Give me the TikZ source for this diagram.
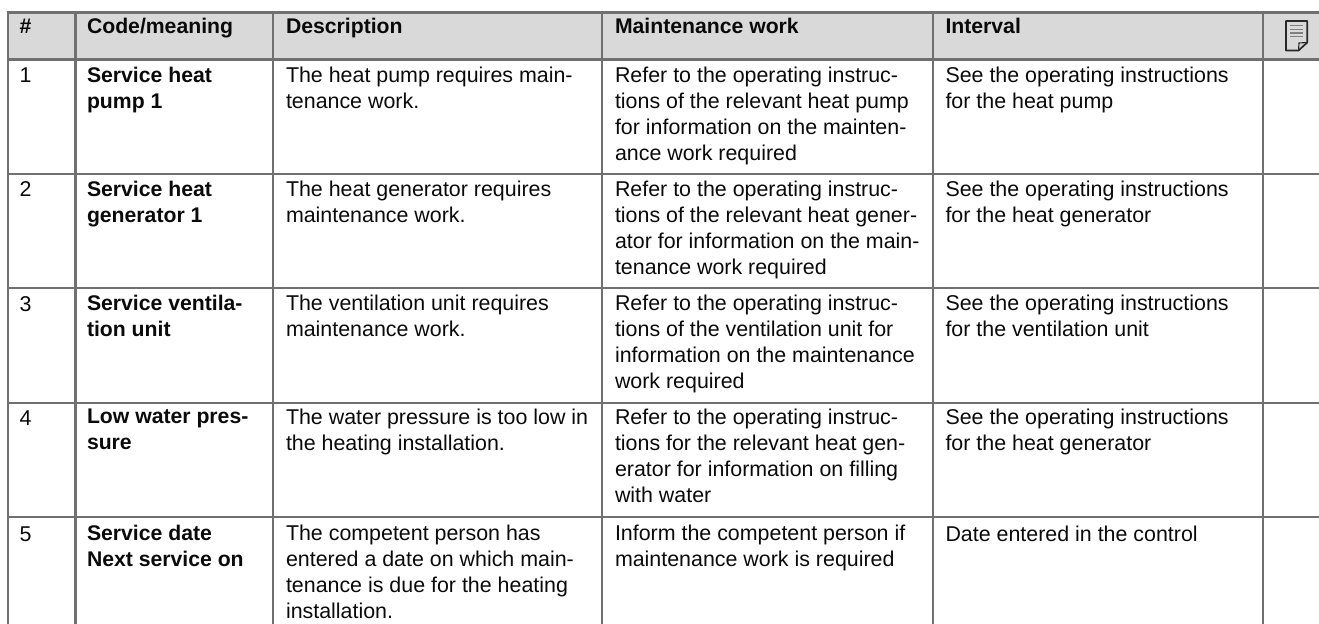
\documentclass[tikz,border=0pt]{standalone}
\usepackage{fontspec}
\setmainfont{Liberation Sans}
\definecolor{rule}{RGB}{112,112,112}
\definecolor{head}{RGB}{217,217,217}
\definecolor{ink}{RGB}{10,10,10}
\definecolor{iconink}{RGB}{40,40,40}
\begin{document}
\begin{tikzpicture}[x=1bp,y=-1bp,
  gridline/.style={draw=rule,line width=2.4bp},
  cell/.style={anchor=north west,yshift=16bp,inner sep=0pt,outer sep=0pt,align=left,text=ink,font=\fontsize{21.4bp}{26bp}\selectfont,execute at begin node={\rule{0pt}{16bp}}},
  bcell/.style={cell,font=\fontsize{21.2bp}{26bp}\selectfont\bfseries}]
\useasboundingbox (0,0) rectangle (1319,624);
\fill[head] (8,12.5) rectangle (1319,59.5);
\foreach \y in {12.5,59.5,174,287.7,403,516.7} \draw[gridline] (7,\y) -- (1319,\y);
\foreach \x in {8.2,75.3,273,602,932.7,1263} \draw[gridline] (\x,12.5) -- (\x,624);
% header
\node[bcell] (h0) at (19.5,34) {\#};
\node[bcell] (h1) at (87,34) {Code/meaning};
\node[bcell] (h2) at (286,34) {Description};
\node[bcell] (h3) at (615,34) {Maintenance work};
\node[bcell] (h4) at (945.5,34) {Interval};
% row 1
\node[cell] (n1) at (19.5,83) {1};
\node[bcell] (c1) at (87,83) {Service heat\\pump 1};
\node[cell] (d1) at (286,83) {The heat pump requires main-\\tenance work.};
\node[cell] (m1) at (615,83) {Refer to the operating instruc-\\tions of the relevant heat pump\\for information on the mainten-\\ance work required};
\node[cell] (i1) at (945.5,83) {See the operating instructions\\for the heat pump};
% row 2
\node[cell] (n2) at (19.5,197) {2};
\node[bcell] (c2) at (87,197) {Service heat\\generator 1};
\node[cell] (d2) at (286,197) {The heat generator requires\\maintenance work.};
\node[cell] (m2) at (615,197) {Refer to the operating instruc-\\tions of the relevant heat gener-\\ator for information on the main-\\tenance work required};
\node[cell] (i2) at (945.5,197) {See the operating instructions\\for the heat generator};
% row 3
\node[cell] (n3) at (19.5,311) {3};
\node[bcell] (c3) at (87,311) {Service ventila-\\tion unit};
\node[cell] (d3) at (286,311) {The ventilation unit requires\\maintenance work.};
\node[cell] (m3) at (615,311) {Refer to the operating instruc-\\tions of the ventilation unit for\\information on the maintenance\\work required};
\node[cell] (i3) at (945.5,311) {See the operating instructions\\for the ventilation unit};
% row 4
\node[cell] (n4) at (19.5,425) {4};
\node[bcell] (c4) at (87,425) {Low water pres-\\sure};
\node[cell] (d4) at (286,425) {The water pressure is too low in\\the heating installation.};
\node[cell] (m4) at (615,425) {Refer to the operating instruc-\\tions for the relevant heat gen-\\erator for information on filling\\with water};
\node[cell] (i4) at (945.5,425) {See the operating instructions\\for the heat generator};
% row 5
\node[cell] (n5) at (19.5,541) {5};
\node[bcell] (c5) at (87,541) {Service date\\Next service on};
\node[cell] (d5) at (286,541) {The competent person has\\entered a date on which main-\\tenance is due for the heating\\installation.};
\node[cell] (m5) at (615,541) {Inform the competent person if\\maintenance work is required};
\node[cell] (i5) at (945.5,541) {Date entered in the control};
% icon
\draw[iconink,line width=1.7bp,line join=round] (1286,21) -- (1307.2,21) -- (1307.2,42.5) -- (1298.5,50.5) -- (1286,50.5) -- cycle;
\draw[iconink,line width=1.1bp] (1298.5,50.5) -- (1299,43) -- (1307.2,42.5);
\foreach \y in {25.5,29.3,33,36.8} \draw[gray,line width=1.1bp] (1290,\y) -- (1303,\y);
\end{tikzpicture}
\end{document}
